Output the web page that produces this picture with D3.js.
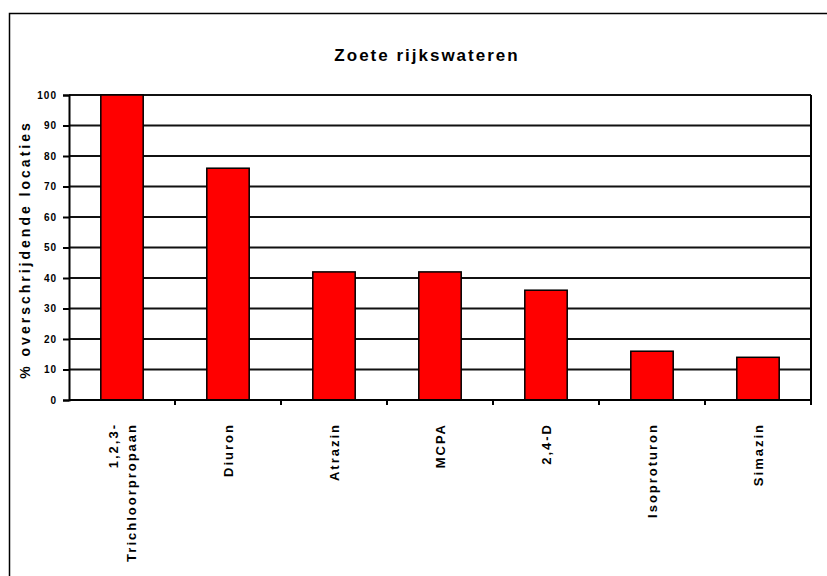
<!DOCTYPE html>
<html>
<head>
<meta charset="utf-8">
<script src="https://cdn.jsdelivr.net/npm/d3@7/dist/d3.min.js"></script>
<style>
  html, body { margin: 0; padding: 0; background: #fff; }
  svg { display: block; }
  text { font-family: "Liberation Sans", Arial, sans-serif; fill: #000; }
</style>
</head>
<body>
<script>
// ---- Data ----
const title = "Zoete rijkswateren";
const yLabel = "% overschrijdende locaties";
const categories = ["1,2,3-\nTrichloorpropaan", "Diuron", "Atrazin", "MCPA", "2,4-D", "Isoproturon", "Simazin"];
const values = [100, 76, 42, 42, 36, 16, 14];
const yTicks = [0, 10, 20, 30, 40, 50, 60, 70, 80, 90, 100];

// ---- Layout ----
const W = 827, H = 576;
const plot = { left: 69, right: 811, top: 95, bottom: 400 };

const svg = d3.select("body").append("svg").attr("width", W).attr("height", H);
svg.append("rect").attr("width", W).attr("height", H).attr("fill", "#fff");

// outer frame (extends past right/bottom edges)
svg.append("rect")
  .attr("x", 9.5).attr("y", 13.5).attr("width", 900).attr("height", 700)
  .attr("fill", "none").attr("stroke", "#000").attr("stroke-width", 1.5);

const x = d3.scaleBand().domain(categories).range([plot.left, plot.right]).paddingInner(0.6).paddingOuter(0.3);
const xStep = d3.scaleBand().domain(categories).range([plot.left, plot.right]);
const y = d3.scaleLinear().domain([0, 100]).range([plot.bottom, plot.top]);

// title
svg.append("text")
  .attr("x", 427).attr("y", 61)
  .attr("text-anchor", "middle")
  .style("font-size", "17px").style("font-weight", "bold").style("letter-spacing", "2px")
  .text(title);

// gridlines
svg.append("g").selectAll("line").data(yTicks.filter(d => d > 0)).join("line")
  .attr("x1", plot.left).attr("x2", plot.right)
  .attr("y1", d => y(d)).attr("y2", d => y(d))
  .attr("stroke", "#111").attr("stroke-width", 2);

// right border of plot area
svg.append("line")
  .attr("x1", plot.right).attr("x2", plot.right)
  .attr("y1", plot.top).attr("y2", plot.bottom)
  .attr("stroke", "#000").attr("stroke-width", 2);

// bars
svg.append("g").selectAll("rect").data(categories).join("rect")
  .attr("x", d => x(d))
  .attr("width", x.bandwidth())
  .attr("y", (d, i) => y(values[i]))
  .attr("height", (d, i) => y(0) - y(values[i]))
  .attr("fill", "#ff0000").attr("stroke", "#000").attr("stroke-width", 1.5);

// y axis
const yAxis = svg.append("g").attr("transform", `translate(${plot.left},0)`)
  .call(d3.axisLeft(y).tickValues(yTicks).tickSize(6).tickPadding(6).tickFormat(d3.format("d")));
yAxis.select(".domain").attr("stroke", "#000").attr("stroke-width", 2);
yAxis.selectAll(".tick line").attr("stroke", "#000").attr("stroke-width", 2);
yAxis.selectAll(".tick text")
  .style("font-family", "'Liberation Sans', Arial, sans-serif")
  .style("font-size", "10px").style("font-weight", "bold").style("letter-spacing", "1px")
  .attr("fill", "#000");

// x axis line and boundary ticks
svg.append("line")
  .attr("x1", plot.left).attr("x2", plot.right)
  .attr("y1", plot.bottom).attr("y2", plot.bottom)
  .attr("stroke", "#000").attr("stroke-width", 2);
const boundaries = categories.map(c => xStep(c) + xStep.bandwidth());
svg.append("g").selectAll("line").data(boundaries).join("line")
  .attr("x1", d => d).attr("x2", d => d)
  .attr("y1", plot.bottom).attr("y2", plot.bottom + 5)
  .attr("stroke", "#000").attr("stroke-width", 2);

// x labels (rotated)
const lineH = 18;
categories.forEach(c => {
  const lines = c.split("\n");
  const cx = xStep(c) + xStep.bandwidth() / 2;
  lines.forEach((ln, j) => {
    const off = (j - (lines.length - 1) / 2) * lineH;
    svg.append("text")
      .attr("transform", `translate(${cx + off},423) rotate(-90)`)
      .attr("text-anchor", "end")
      .attr("dy", "0.35em")
      .style("font-size", "13px").style("font-weight", "bold").style("letter-spacing", "2px")
      .text(ln);
  });
});

// y label
svg.append("text")
  .attr("transform", `translate(30,${(plot.top + plot.bottom) / 2 + 2}) rotate(-90)`)
  .attr("text-anchor", "middle")
  .style("font-size", "14px").style("font-weight", "bold").style("letter-spacing", "3px")
  .text(yLabel);
</script>
</body>
</html>
